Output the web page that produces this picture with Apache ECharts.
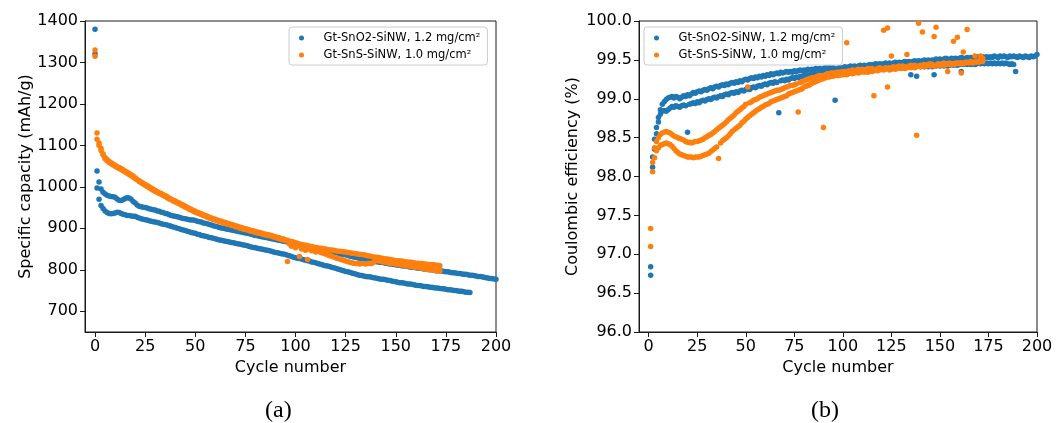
<!DOCTYPE html>
<html>
<head>
<meta charset="utf-8">
<script src="https://cdn.jsdelivr.net/npm/echarts@6/dist/echarts.min.js"></script>
<style>
  html, body { margin: 0; padding: 0; background: #fff; }
  #chart { width: 1059px; height: 423px; }
</style>
</head>
<body>
<div id="chart"></div>
<script>
// Legend names of the two electrodes
const seriesNames = ['Gt-SnO2-SiNW, 1.2 mg/cm²', 'Gt-SnS-SiNW, 1.0 mg/cm²'];

// Tick labels
const cycleTicks = [0, 25, 50, 75, 100, 125, 150, 175, 200];
const capacityTicks = [700, 800, 900, 1000, 1100, 1200, 1300, 1400];

// Specific capacity (mAh/g), one value per cycle, first value at cycle 0
const capSnO2CellA = [
  1380,1038,1012,995,987,983,980,978,977,976,
  975,971,968,967,969,972,974,973,970,965,
  961,956,953,952,951,950,949,947,946,945,
  944,942,941,939,938,936,935,933,931,930,
  929,928,927,925,924,923,922,921,920,920,
  919,917,916,915,913,912,911,909,908,906,
  905,904,902,901,900,899,898,897,896,895,
  894,893,892,891,890,889,888,887,886,884,
  883,882,881,880,879,878,877,876,875,874,
  873,872,871,870,869,868,867,866,865,864,
  863,862,860,859,858,857,856,855,854,853,
  852,851,850,849,848,847,846,845,844,843,
  842,841,839,838,837,836,835,833,832,831,
  830,829,828,827,826,825,824,823,822,821,
  820,819,818,818,817,816,815,814,814,813,
  812,811,811,810,809,809,808,807,806,806,
  805,804,804,803,802,802,801,800,800,799,
  798,798,797,797,796,795,795,794,793,793,
  792,791,791,790,789,789,788,787,787,786,
  785,784,784,783,782,781,780,779,779,778,
  777
];
const capSnO2CellB = [
  1321,997,970,955,948,942,938,936,935,936,
  937,939,938,936,934,933,931,931,930,929,
  929,927,925,923,922,921,920,918,917,916,
  915,914,913,911,910,909,908,906,905,903,
  902,900,899,897,896,895,893,892,890,889,
  888,886,885,883,882,881,880,878,877,876,
  875,873,872,871,870,869,868,867,866,865,
  864,863,862,861,860,859,858,856,855,854,
  853,852,851,850,849,848,847,846,845,843,
  842,841,840,839,838,837,835,834,832,830,
  829,828,827,826,824,823,822,821,819,818,
  817,815,814,813,811,810,809,808,806,805,
  804,802,801,799,798,796,795,794,792,791,
  790,788,787,786,785,784,783,783,782,781,
  780,779,778,777,777,776,775,774,773,772,
  771,770,769,769,768,767,766,766,765,764,
  763,762,762,761,760,760,759,758,758,757,
  756,756,755,754,754,753,752,752,751,750,
  750,749,748,748,747,746,746,745
];
const capSnSCellA = [
  1330,1130,1106,1093,1080,1071,1066,1062,1058,1055,
  1052,1049,1047,1044,1041,1038,1035,1032,1029,1026,
  1022,1018,1015,1012,1009,1006,1003,1000,997,994,
  991,989,986,984,981,979,976,973,971,968,
  966,963,961,958,956,953,951,948,946,943,
  941,939,937,935,933,931,929,927,925,923,
  922,920,918,917,915,914,912,911,909,908,
  906,905,903,902,900,899,898,896,895,894,
  892,891,890,889,887,886,885,884,883,881,
  880,878,877,875,874,872,871,869,868,867,
  865,864,862,861,860,859,858,857,856,855,
  854,853,852,852,851,850,849,848,848,847,
  846,845,845,844,843,843,842,841,840,840,
  839,838,837,837,836,835,834,833,832,831,
  830,830,829,828,827,826,826,825,824,823,
  822,822,821,821,820,819,819,818,818,817,
  816,816,815,815,814,814,813,813,812,812,
  811,811,810
];
const capSnSCellB = [
  1315,1115,1100,1088,1077,1068,1063,1059,1056,1053,
  1050,1047,1044,1042,1039,1036,1033,1030,1027,1024,
  1020,1017,1013,1010,1007,1004,1001,998,995,992,
  989,987,984,982,979,977,974,971,969,966,
  964,961,959,956,954,951,949,946,944,941,
  939,937,935,933,931,929,927,925,923,921,
  920,918,916,915,913,912,910,909,907,906,
  904,903,901,900,898,897,896,894,893,892,
  890,889,888,887,885,884,883,882,881,879,
  878,876,875,873,872,870,820,862,857,860,
  853,858,832,850,855,847,825,850,846,848,
  843,846,843,841,840,838,836,834,833,831,
  829,827,826,824,823,821,820,818,817,816,
  815,815,814,815,815,814,815,816,815,818,
  823,822,821,820,819,818,817,816,816,815,
  814,813,812,812,811,810,809,809,808,807,
  806,805,805,804,803,802,801,800,800,799,
  798,798,797
];

// Coulombic efficiency (%), one value per cycle, first value at cycle 1
const ceSnO2CellA = [
  96.84,98.25,98.48,98.63,98.76,98.86,98.93,98.96,98.99,99.01,
  99.02,99.03,99.01,99.03,99.02,99.00,99.02,99.04,99.03,99.05,
  99.04,99.06,99.08,99.07,99.09,99.10,99.09,99.11,99.12,99.11,
  99.13,99.14,99.13,99.15,99.16,99.15,99.17,99.18,99.17,99.19,
  99.18,99.20,99.21,99.20,99.22,99.21,99.23,99.22,99.24,99.25,
  99.24,99.26,99.27,99.26,99.28,99.27,99.29,99.28,99.30,99.29,
  99.31,99.30,99.32,99.31,99.32,99.33,99.32,99.34,99.33,99.34,
  99.35,99.34,99.35,99.34,99.36,99.35,99.36,99.37,99.36,99.37,
  99.36,99.38,99.37,99.38,99.37,99.39,99.38,99.39,99.38,99.39,
  99.40,99.39,99.40,99.39,99.40,98.98,99.39,99.40,99.39,99.40,
  99.41,99.40,99.41,99.42,99.41,99.42,99.41,99.42,99.43,99.42,
  99.43,99.42,99.43,99.44,99.43,99.44,99.45,99.44,99.45,99.44,
  99.45,99.46,99.45,99.46,99.45,99.46,99.47,99.46,99.47,99.46,
  99.47,99.48,99.47,99.48,99.47,99.48,99.49,99.48,99.49,99.48,
  99.49,99.50,99.49,99.50,99.49,99.50,99.49,99.51,99.50,99.51,
  99.50,99.51,99.52,99.51,99.50,99.52,99.51,99.52,99.51,99.52,
  99.53,99.52,99.51,99.53,99.52,99.53,99.52,99.53,99.54,99.53,
  99.52,99.54,99.53,99.54,99.53,99.54,99.53,99.55,99.54,99.53,
  99.55,99.54,99.55,99.54,99.53,99.55,99.54,99.55,99.54,99.53,
  99.55,99.54,99.53,99.55,99.54,99.53,99.55,99.54,99.55,99.57
];
const ceSnO2CellB = [
  96.73,98.12,98.35,98.55,98.70,98.80,98.84,98.85,98.84,98.86,
  98.88,98.90,98.89,98.91,98.90,98.89,98.91,98.92,98.91,98.57,
  98.93,98.94,98.95,98.94,98.96,98.95,98.97,98.98,98.97,98.99,
  99.00,98.99,99.01,99.02,99.01,99.03,99.04,99.03,99.05,99.06,
  99.05,99.07,99.08,99.07,99.09,99.08,99.10,99.11,99.10,99.12,
  99.13,99.12,99.14,99.15,99.14,99.16,99.17,99.16,99.18,99.19,
  99.18,99.20,99.21,99.20,99.22,99.21,98.82,99.23,99.24,99.23,
  99.25,99.24,99.26,99.27,99.26,99.28,99.27,99.29,99.28,99.30,
  99.29,99.30,99.31,99.30,99.32,99.31,99.32,99.33,99.32,99.33,
  99.32,99.34,99.33,99.34,99.33,99.35,99.34,99.35,99.34,99.35,
  99.36,99.35,99.36,99.35,99.37,99.36,99.37,99.36,99.38,99.37,
  99.38,99.37,99.38,99.39,99.38,99.39,99.38,99.39,99.40,99.39,
  99.40,99.39,99.40,99.41,99.40,99.41,99.40,99.41,99.42,99.41,
  99.42,99.41,99.42,99.41,99.31,99.42,99.41,99.29,99.42,99.41,
  99.42,99.41,99.42,99.41,99.42,99.41,99.31,99.42,99.43,99.42,
  99.43,99.42,99.43,99.42,99.43,99.44,99.43,99.44,99.43,99.44,
  99.35,99.44,99.45,99.44,99.45,99.44,99.45,99.44,99.45,99.46,
  99.45,99.46,99.45,99.46,99.45,99.46,99.45,99.46,99.45,99.46,
  99.45,99.46,99.45,99.46,99.45,99.44,99.45,99.44,99.35
];
const ceSnSCellA = [
  97.33,98.18,98.37,98.45,98.50,98.54,98.56,98.57,98.58,98.57,
  98.56,98.54,98.52,98.51,98.50,98.49,98.48,98.47,98.45,98.44,
  98.44,98.43,98.44,98.45,98.45,98.46,98.47,98.48,98.50,98.51,
  98.53,98.54,98.56,98.58,98.60,98.62,98.64,98.66,98.68,98.70,
  98.73,98.75,98.77,98.79,98.82,98.84,98.86,98.88,98.90,98.93,
  99.15,98.95,98.96,98.98,98.99,99.00,99.02,99.03,99.04,99.05,
  99.06,99.07,99.08,99.09,99.10,99.11,99.11,99.12,99.13,99.14,
  99.15,99.16,99.17,99.17,99.18,99.19,98.83,99.21,99.22,99.23,
  99.24,99.25,99.26,99.27,99.27,99.28,99.29,99.30,99.30,98.63,
  99.31,99.32,99.32,99.33,99.33,99.33,99.34,99.34,99.34,99.35,
  99.35,99.72,99.36,99.35,99.37,99.36,99.37,99.38,99.37,99.38,
  99.37,99.38,99.39,99.38,99.39,99.04,99.38,99.39,99.40,99.39,
  99.88,99.40,99.91,99.40,99.55,99.41,99.40,99.41,99.42,99.41,
  99.42,99.41,99.57,99.42,99.43,99.42,99.43,98.53,99.97,99.43,
  99.86,99.44,99.43,99.44,99.45,99.44,99.80,99.92,99.45,99.44,
  99.45,99.46,99.45,99.35,99.46,99.45,99.74,99.46,99.79,99.46,
  99.33,99.60,99.47,99.89,99.47,99.48,99.47,99.55,99.48,99.49,
  99.50,99.52
];
const ceSnSCellB = [
  97.10,98.06,98.24,98.33,98.37,98.40,98.41,98.42,98.43,98.42,
  98.41,98.39,98.36,98.33,98.31,98.29,98.28,98.27,98.26,98.25,
  98.25,98.25,98.24,98.25,98.25,98.25,98.26,98.27,98.28,98.29,
  98.30,98.32,98.34,98.36,98.38,98.23,98.43,98.46,98.48,98.50,
  98.52,98.55,98.58,98.60,98.62,98.64,98.66,98.69,98.71,98.74,
  98.76,98.78,98.80,98.82,98.84,98.86,98.87,98.89,98.90,98.92,
  98.93,98.94,98.96,98.97,98.98,98.99,99.00,99.01,99.02,99.03,
  99.04,99.06,99.07,99.08,99.09,99.10,99.11,99.12,99.13,99.15,
  99.16,99.17,99.18,99.20,99.21,99.22,99.23,99.24,99.25,99.26,
  99.27,99.28,99.28,99.29,99.29,99.30,99.30,99.30,99.31,99.31,
  99.32,99.31,99.32,99.33,99.32,99.33,99.34,99.33,99.34,99.35,
  99.34,99.35,99.34,99.36,99.35,99.36,99.37,99.36,99.37,99.38,
  99.37,99.38,99.15,99.37,99.38,99.39,99.38,99.39,99.40,99.39,
  99.40,99.39,99.40,99.41,99.40,99.41,99.40,99.41,99.42,99.41,
  99.42,99.41,99.42,99.43,99.42,99.43,99.42,99.43,99.44,99.43,
  99.44,99.43,99.44,99.45,99.44,99.45,99.44,99.45,99.46,99.45,
  99.46,99.45,99.46,99.47,99.46,99.47,99.46,99.47,99.48,99.47,
  99.55,99.48
];

// Pair each value with its cycle number
function toPoints(values, firstCycle) {
  return values.map((v, i) => [firstCycle + i, v]);
}

const BLUE = '#1f77b4';
const ORANGE = '#ff7f0e';
const FONT = 'DejaVu Sans';
const AXIS_COLOR = '#1a1a1a';

function xAxisFor(gridIndex) {
  return {
    type: 'value', gridIndex: gridIndex, min: -5, max: 200,
    name: 'Cycle number', nameLocation: 'middle', nameGap: 26,
    nameTextStyle: { fontFamily: FONT, fontSize: 16, color: '#000' },
    axisLine: { show: true, onZero: false, lineStyle: { color: AXIS_COLOR, width: 1 } },
    axisTick: { show: true, length: 5, customValues: cycleTicks, lineStyle: { color: AXIS_COLOR } },
    axisLabel: { customValues: cycleTicks, fontFamily: FONT, fontSize: 16, color: '#000', margin: 7, formatter: v => String(v) },
    splitLine: { show: false }
  };
}

function legendAt(left) {
  return {
    left: left, top: 27, orient: 'vertical',
    data: seriesNames,
    icon: 'circle', itemWidth: 10, itemHeight: 5, itemGap: 3,
    padding: [4, 7, 3, 10],
    borderColor: '#cccccc', borderWidth: 1, borderRadius: 3,
    backgroundColor: 'rgba(255,255,255,0.8)',
    selectedMode: false,
    textStyle: { fontFamily: FONT, fontSize: 11.5, color: '#000', padding: [0, 0, 0, 12], lineHeight: 14 }
  };
}

function scatter(name, color, xi, yi, points) {
  return {
    type: 'scatter', name: name, xAxisIndex: xi, yAxisIndex: yi,
    symbol: 'circle', symbolSize: 5.5,
    itemStyle: { color: color, opacity: 1 },
    data: points, silent: true
  };
}

const chart = echarts.init(document.getElementById('chart'), null, { renderer: 'canvas' });
chart.setOption({
  animation: false,
  backgroundColor: '#fff',
  grid: [
    { left: 85, top: 21, width: 411, height: 311, show: true, borderColor: AXIS_COLOR, borderWidth: 1, backgroundColor: 'transparent' },
    { left: 639, top: 21, width: 398, height: 311, show: true, borderColor: AXIS_COLOR, borderWidth: 1, backgroundColor: 'transparent' }
  ],
  xAxis: [xAxisFor(0), xAxisFor(1)],
  yAxis: [
    {
      type: 'value', gridIndex: 0, min: 650, max: 1400,
      name: 'Specific capacity (mAh/g)', nameLocation: 'middle', nameGap: 51,
      nameTextStyle: { fontFamily: FONT, fontSize: 16, color: '#000' },
      axisLine: { show: true, onZero: false, lineStyle: { color: AXIS_COLOR, width: 1 } },
      axisTick: { show: true, length: 5, customValues: capacityTicks, lineStyle: { color: AXIS_COLOR } },
      axisLabel: { customValues: capacityTicks, fontFamily: FONT, fontSize: 16, color: '#000', margin: 7, formatter: v => String(v) },
      splitLine: { show: false }
    },
    {
      type: 'value', gridIndex: 1, min: 96, max: 100, interval: 0.5,
      name: 'Coulombic efficiency (%)', nameLocation: 'middle', nameGap: 58,
      nameTextStyle: { fontFamily: FONT, fontSize: 16, color: '#000' },
      axisLine: { show: true, onZero: false, lineStyle: { color: AXIS_COLOR, width: 1 } },
      axisTick: { show: true, length: 5, lineStyle: { color: AXIS_COLOR } },
      axisLabel: { fontFamily: FONT, fontSize: 16, color: '#000', margin: 7, formatter: v => v.toFixed(1) },
      splitLine: { show: false }
    }
  ],
  legend: [legendAt(289), legendAt(644)],
  series: [
    scatter(seriesNames[0], BLUE, 0, 0, toPoints(capSnO2CellA, 0).concat(toPoints(capSnO2CellB, 0))),
    scatter(seriesNames[1], ORANGE, 0, 0, toPoints(capSnSCellA, 0).concat(toPoints(capSnSCellB, 0))),
    scatter(seriesNames[0], BLUE, 1, 1, toPoints(ceSnO2CellA, 1).concat(toPoints(ceSnO2CellB, 1))),
    scatter(seriesNames[1], ORANGE, 1, 1, toPoints(ceSnSCellA, 1).concat(toPoints(ceSnSCellB, 1)))
  ],
  graphic: [
    { type: 'text', left: 280 - 15, top: 399, style: { text: '(a)', font: '24px "Liberation Serif"', fill: '#000' } },
    { type: 'text', left: 826 - 15, top: 399, style: { text: '(b)', font: '24px "Liberation Serif"', fill: '#000' } }
  ]
});
</script>
</body>
</html>
